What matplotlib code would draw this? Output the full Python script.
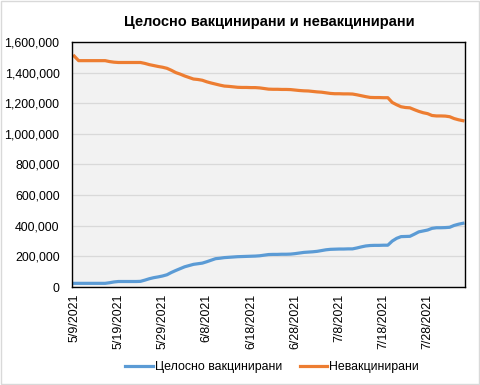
import pandas as pd
import matplotlib
matplotlib.use("Agg")
import matplotlib.pyplot as plt

plt.rcParams['font.family'] = ['Liberation Sans', 'DejaVu Sans']

# дневни вредности, во илјади, од 9.5.2021
vakcinirani = [
    24, 24, 24, 24, 24, 24, 24, 24, 28, 33,
    36, 36, 36, 36, 36, 37, 45, 54, 61, 66,
    72, 80, 95, 108, 120, 132, 140, 148, 152, 156,
    165, 175, 185, 188, 192, 194, 196, 198, 199, 200,
    201, 202, 204, 208, 212, 213, 213, 214, 214, 215,
    218, 222, 226, 228, 230, 233, 238, 243, 246, 247,
    248, 248, 249, 249, 255, 262, 268, 271, 272, 272,
    273, 273, 300, 318, 329, 330, 331, 345, 360, 366,
    372, 383, 387, 387, 388, 390, 402, 410, 416,
]
nevakcinirani = [
    1508, 1478, 1478, 1478, 1478, 1478, 1478, 1478, 1472, 1468,
    1466, 1466, 1466, 1466, 1466, 1466, 1460, 1452, 1446, 1440,
    1435, 1428, 1415, 1400, 1390, 1378, 1368, 1358, 1355, 1350,
    1340, 1332, 1325, 1318, 1312, 1310, 1307, 1304, 1303, 1303,
    1302, 1302, 1300, 1296, 1292, 1291, 1291, 1290, 1290, 1289,
    1286, 1283, 1281, 1280, 1277, 1274, 1272, 1268, 1264, 1262,
    1262, 1261, 1261, 1260, 1255, 1249, 1243, 1238, 1237, 1237,
    1236, 1236, 1205, 1190, 1177, 1172, 1170, 1158, 1147, 1138,
    1132, 1120, 1117, 1117, 1116, 1112, 1100, 1092, 1086,
]
datumi = pd.date_range("2021-05-09", periods=len(vakcinirani), freq="D")
y_ticks = [0, 200000, 400000, 600000, 800000, 1000000, 1200000, 1400000, 1600000]

fig = plt.figure(figsize=(4.8, 3.85), dpi=100)
fig.patches.append(plt.Rectangle((0.002, 0.002), 0.996, 0.996, transform=fig.transFigure,
                                 fill=False, edgecolor="#D9D9D9", linewidth=1))
ax = fig.add_axes([0.15, 0.2545, 0.819, 0.6365])
ax.set_facecolor("#F2F2F2")

x = list(range(len(datumi)))
ax.plot(x, [v * 1000 for v in vakcinirani], color="#5B9BD5", linewidth=2.3,
        label="Целосно вакцинирани", solid_joinstyle="round")
ax.plot(x, [v * 1000 for v in nevakcinirani], color="#ED7D31", linewidth=2.3,
        label="Невакцинирани", solid_joinstyle="round")

ax.set_xlim(-0.5, len(datumi) - 0.5)
ax.set_ylim(0, 1600000)
ax.set_yticks(y_ticks)
ax.set_yticklabels([f"{v:,}" for v in y_ticks], fontsize=8.9)
ax.yaxis.grid(True, color="#D9D9D9", linewidth=0.9)
ax.set_axisbelow(True)

xt = x[::10]
ax.set_xticks(xt)
ax.set_xticklabels([f"{d.month}/{d.day}/{d.year}" for d in datumi[::10]],
                   rotation=90, fontsize=8.9)
ax.tick_params(axis="x", length=0, pad=5, colors="#000000")
ax.tick_params(axis="y", length=0, pad=9, colors="#000000")
for s in ax.spines.values():
    s.set_color("black")
    s.set_linewidth(1)

fig.text(0.561, 0.943, "Целосно вакцинирани и невакцинирани", ha="center", va="center",
         fontsize=10.5, fontweight="bold")
fig.legend(loc="center", bbox_to_anchor=(0.567, 0.047), ncol=2, frameon=False,
           fontsize=8.9, handlelength=2.2, handletextpad=0.2, columnspacing=1.4)

fig.savefig("out.png", dpi=100)
